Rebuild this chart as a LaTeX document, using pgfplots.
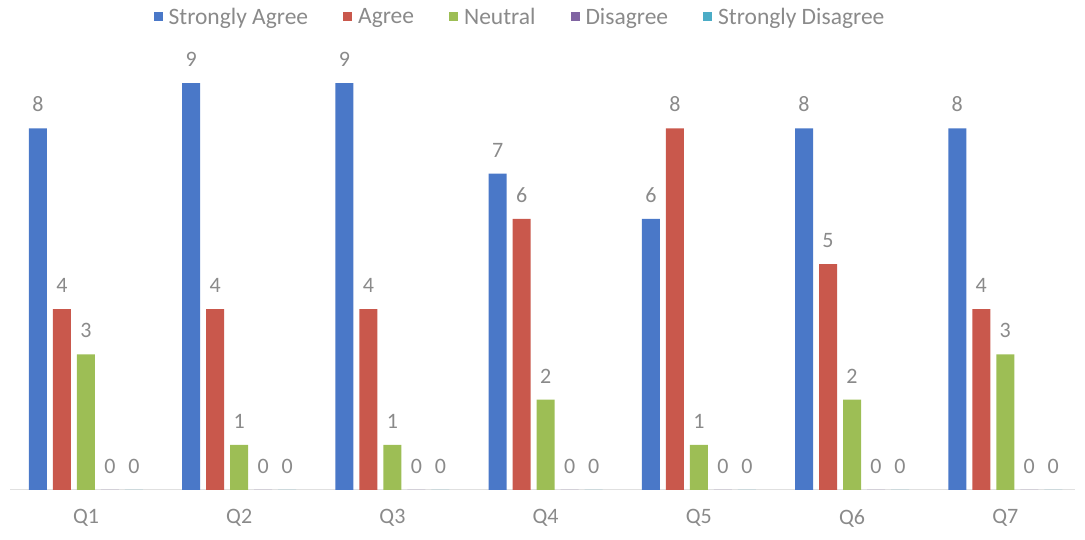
\documentclass[border=0pt]{standalone}
\usepackage{pgfplots}
\pgfplotsset{compat=1.18}
\usepackage{fontspec}
\setmainfont{Carlito}
\definecolor{sa}{HTML}{4A78C8}
\definecolor{ag}{HTML}{C9584C}
\definecolor{ne}{HTML}{9DBE55}
\definecolor{di}{HTML}{8064A2}
\definecolor{sd}{HTML}{4BACC6}
\definecolor{txt}{HTML}{8A8A8A}
\begin{document}
\begin{tikzpicture}
\begin{axis}[
    scale only axis,
    width=1065pt, height=461pt,
    xmin=-0.496, xmax=6.455,
    ymin=0, ymax=10.2,
    ybar=6pt, bar width=18pt,
    axis x line*=bottom,
    axis y line=none,
    x axis line style={draw=black!12, line width=1pt, -},
    xtick={0,...,6},
    xticklabels={Q1,Q2,Q3,Q4,Q5,Q6,Q7},
    major tick length=0pt,
    xticklabel style={text=txt, font=\fontsize{22}{26}\selectfont, yshift=-16pt},
    /pgf/number format/assume math mode=true,
    nodes near coords,
    every node near coord/.append style={text=txt, font=\fontsize{22}{26}\selectfont, anchor=south, yshift=13pt},
    legend columns=5,
    legend style={draw=none, fill=none, at={(510pt,473pt)}, anchor=center,
        font=\fontsize{23.5}{27}\selectfont, text=txt,
        /tikz/every even column/.append style={column sep=33pt}},
    legend image code/.code={\fill[#1] (0pt,-4.5pt) rectangle (9pt,4.5pt); \path (13pt,0pt);},
    clip=false,
]
\addplot[fill=sa, draw=none] coordinates {(0,8) (1,9) (2,9) (3,7) (4,6) (5,8) (6,8)};
\addlegendentry{Strongly Agree}
\addplot[fill=ag, draw=none] coordinates {(0,4) (1,4) (2,4) (3,6) (4,8) (5,5) (6,4)};
\addlegendentry{Agree}
\addplot[fill=ne, draw=none] coordinates {(0,3) (1,1) (2,1) (3,2) (4,1) (5,2) (6,3)};
\addlegendentry{Neutral}
\addplot[fill=di, draw=none] coordinates {(0,0) (1,0) (2,0) (3,0) (4,0) (5,0) (6,0)};
\addlegendentry{Disagree}
\addplot[fill=sd, draw=none] coordinates {(0,0) (1,0) (2,0) (3,0) (4,0) (5,0) (6,0)};
\addlegendentry{Strongly Disagree}
\end{axis}
\pgfresetboundingbox
\path (-10pt,-50pt) rectangle (1075pt,490pt);
\end{tikzpicture}
\end{document}
